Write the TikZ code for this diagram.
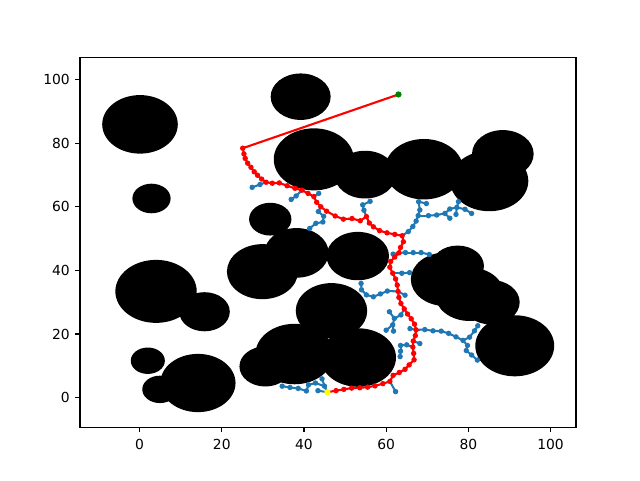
\documentclass[tikz,border=0pt]{standalone}
\usepackage{fontspec}
\setmainfont{DejaVu Sans}
\definecolor{treeblue}{HTML}{1F77B4}
\definecolor{startyellow}{HTML}{FFFF00}
\definecolor{goalgreen}{HTML}{008000}
\tikzset{
  obstacle/.style={fill=black},
  treeedge/.style={treeblue, line width=1.45pt, line cap=round},
  pathedge/.style={red, line width=1.5pt, line join=round},
  axisline/.style={black, line width=0.79pt},
  ticklabel/.style={inner sep=0pt, font=\fontsize{9.86}{11}\selectfont}
}

\begin{document}
\begin{tikzpicture}[x=0.102725cm, y=0.079525cm]
  \useasboundingbox (-33.97,-25.90) rectangle (121.78,124.99);

  % Obstacles
  \foreach \cx/\cy/\r in {0.1/85.9/9.2, 39.2/94.6/7.3, 2.9/62.6/4.65, 42.4/74.9/9.75,
      54.9/70.1/7.5, 69.2/71.8/9.5, 88.4/76.6/7.5, 85.1/68.1/9.5, 31.8/56.1/5.15,
      29.9/39.6/8.65, 38.2/45.5/7.8, 53.1/44.5/7.6, 4.0/33.4/9.9, 15.8/27.0/6.15,
      46.7/27.3/8.7, 30.6/9.8/6.3, 37.7/13.7/9.5, 53.2/12.6/9.2, 2.0/11.6/4.15,
      14.2/4.6/9.15, 4.95/2.6/4.3, 77.4/41.4/6.4, 74.4/37.2/8.4, 80.3/32.5/8.4,
      85.5/30.0/7.0, 91.3/16.3/9.6}
    \fill[obstacle] (\cx,\cy) circle[radius=\r];

  % Start, goal and path nodes
  \coordinate (start) at (45.7,1.7);
  \coordinate (goal) at (63.0,95.3);
  \foreach \x/\y [count=\i] in {47.8/2.2, 49.7/2.6, 51.6/3.0, 53.6/3.1, 55.5/3.3,
      57.3/3.7, 59.2/4.4, 60.9/5.1, 61.7/7.0, 63.2/7.9, 64.6/8.9, 65.6/10.3,
      66.8/11.9, 66.7/13.9, 66.5/15.9, 66.6/17.8, 67.1/19.5, 67.3/21.3, 66.9/23.1,
      66.1/24.8, 65.2/26.3, 64.4/27.9, 63.6/29.6, 63.1/31.5, 62.9/33.4, 62.7/35.4,
      62.3/37.3, 61.6/39.1, 60.9/41.0, 61.1/42.8, 62.1/44.2, 63.1/45.5, 63.5/47.2,
      64.2/49.0, 63.9/50.9, 62.1/51.3, 60.2/51.8, 58.4/52.5, 56.9/53.7, 55.9/54.9,
      55.2/56.9, 53.7/55.6, 51.7/56.3, 49.6/56.1, 47.6/57.1, 45.5/58.6, 44.1/60.0,
      43.1/61.4, 42.4/63.2, 41.0/64.2, 39.5/65.2, 37.8/65.8, 35.9/66.6, 34.0/67.5,
      32.3/67.4, 30.8/67.7, 29.7/68.7, 28.7/69.9, 27.9/71.0, 27.1/72.4, 26.3/73.7,
      25.7/75.2, 25.4/76.6, 25.1/78.4}
    \coordinate (p\i) at (\x,\y);

  % Tree nodes off the path
  \foreach \n/\x/\y in {t1/62.3/1.9, t2/43.4/2.2, t3/45.0/3.6, t4/44.4/5.9,
      t5/42.8/4.6, t6/41.1/4.0, t7/40.6/2.1, t8/38.6/2.9, t9/36.6/3.2, t10/34.7/3.6,
      u1/63.6/26.0, u2/62.0/24.9, u3/60.8/27.0, u4/61.6/22.9, u5/60.0/21.2, u6/61.8/20.9,
      v1/65.0/16.6, v2/63.5/16.4, v3/63.5/14.6, v4/63.4/12.9, v5/68.2/17.0,
      w0/65.8/21.7, w1/69.4/21.4, w2/71.4/21.0, w3/73.4/20.9, w4/75.2/20.2,
      w5/77.0/19.1, w6/78.7/18.0, w7/80.3/19.0, w8/81.5/21.0, w9/82.3/22.6,
      w10/79.8/16.4, w11/79.5/14.8, w12/80.8/13.4, w13/82.2/11.8,
      f1/60.3/33.5, f2/58.6/32.6, f3/56.9/31.7, f4/55.2/32.3, f5/54.0/33.9,
      f6/53.9/35.9, f7/64.6/32.2, e1/63.8/39.1, e2/65.7/39.3,
      d0/61.7/45.1, d1/64.7/45.6, d2/66.6/45.6, d3/68.5/45.6, d4/70.5/45.0,
      c1/65.4/52.2, c2/66.5/53.8, c3/67.3/55.5, c4/67.8/57.2, c5/68.2/59.0,
      c6/67.9/61.6, c7/69.8/61.0, c8/70.3/57.2, c9/72.3/57.4, c10/74.3/57.9,
      c11/75.5/56.4, c12/75.5/59.3, c13/77.2/59.8, c14/77.6/61.6, c15/79.2/59.2,
      c16/80.8/57.9, c17/77.0/57.6, a1/54.6/58.9, a2/54.3/60.6, a3/56.1/61.7,
      k1/43.5/58.5, k2/44.8/57.0, k3/44.6/55.2, k4/42.9/54.8, k5/41.4/53.2,
      m1/43.6/64.2, n1/38.1/63.4, n2/36.9/62.3, o1/29.3/67.0, o2/27.4/66.1}
    \coordinate (\n) at (\x,\y);

  % Tree
  \foreach \a/\b in {p8/t1, start/t2, start/t3, t3/t4, t3/t5, t5/t6, t6/t7, t7/t8,
      t8/t9, t9/t10, p22/u1, u1/u2, u2/u3, u2/u4, u4/u5, u4/u6,
      p15/v1, v1/v2, v2/v3, v3/v4, p16/v5,
      p18/w0, p18/w1, w1/w2, w2/w3, w3/w4, w4/w5, w5/w6, w6/w7, w7/w8, w8/w9,
      w6/w10, w10/w11, w11/w12, w12/w13,
      p25/f1, f1/f2, f2/f3, f3/f4, f4/f5, f5/f6, p25/f7, p28/e1, e1/e2,
      p32/d0, p32/d1, d1/d2, d2/d3, d3/d4,
      p35/c1, c1/c2, c2/c3, c3/c4, c4/c5, c5/c6, c6/c7, c4/c8, c8/c9, c9/c10,
      c10/c11, c10/c12, c12/c13, c13/c14, c13/c15, c15/c16, c13/c17,
      p41/a1, a1/a2, a2/a3, p47/k1, k1/k2, k2/k3, k3/k4, k4/k5,
      p49/m1, p51/n1, n1/n2, p56/o1, o1/o2} {
    \draw[treeedge] (\a) -- (\b);
    \fill[treeblue] (\b) circle[radius=0.068cm];
  }

  % Path to the goal
  \draw[pathedge] (start) foreach \i in {1,...,64} { -- (p\i) } -- (goal);
  \foreach \i in {1,...,64}
    \fill[red] (p\i) circle[radius=0.068cm];
  \fill[startyellow] (start) circle[radius=0.078cm];
  \fill[goalgreen] (goal) circle[radius=0.078cm];

  % Axes
  \coordinate (ll) at (-14.5,-9.3);
  \coordinate (ur) at (106.2,106.9);
  \draw[axisline] (ll) rectangle (ur);
  \foreach \t in {0,20,...,100} {
    \draw[axisline] (\t,-9.3) -- ++(0,-0.1215cm)
      node[ticklabel, anchor=north, yshift=-0.1625cm] (xl\t) {\t};
    \draw[axisline] (-14.5,\t) -- ++(-0.1215cm,0)
      node[ticklabel, anchor=east, xshift=-0.1215cm] (yl\t) {\t};
  }
\end{tikzpicture}
\end{document}
